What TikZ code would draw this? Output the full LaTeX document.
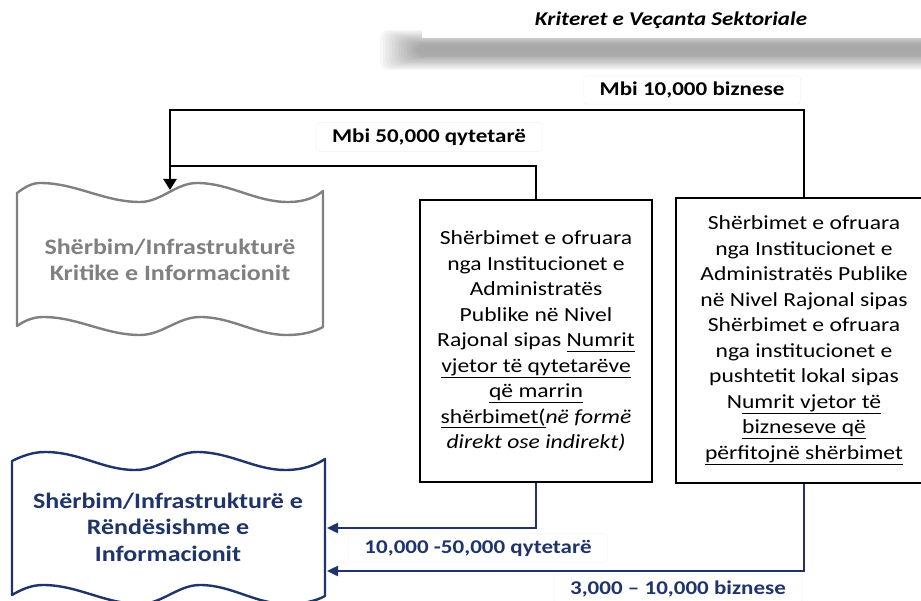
\documentclass[tikz,border=0pt]{standalone}
\usepackage{fontspec}
\setmainfont[FakeStretch=1.18]{Carlito}
\usetikzlibrary{arrows.meta}
\definecolor{navy}{RGB}{31,52,108}
\definecolor{docgray}{RGB}{128,128,128}
\newcommand\uln[1]{\underline{#1\vphantom{qy}}}
\begin{document}
\begin{tikzpicture}[x=1pt,y=-1pt,
  boxtxt/.style={draw=black, line width=1.6pt, align=center, font=\fontsize{20}{25.5}\selectfont, inner sep=0pt},
  lbl/.style={fill=white, draw=black!5, rounded corners=3pt, inner xsep=16pt, inner ysep=6pt, font=\bfseries\fontsize{19.5}{24}\selectfont},
  blk/.style={line width=2.4pt, draw=black},
  blu/.style={line width=2.4pt, draw=navy},
  tipblk/.style={-{Triangle[width=13pt,length=11pt]}},
  tipblu/.style={-{Triangle[width=10pt,length=11pt]}},
  doctxt/.style={align=center, font=\bfseries\fontsize{22}{26.5}\selectfont}
]
\useasboundingbox (0,0) rectangle (921,601);
\clip (0,0) rectangle (921,601);
% title banner with blurred shadow
\foreach \i in {0,...,12} {
  \fill[black, opacity=0.03, rounded corners=8pt] (380+\i*3, 30+\i*1.2) rectangle (935, 70-\i*1.2);
}
\fill[white] (422,0) rectangle (921,38);
\node[font=\bfseries\itshape\fontsize{19.5}{22}\selectfont] (title) at (671,20) {Kriteret e Veçanta Sektoriale};

% gray document shape
\draw[docgray, line width=2.4pt, line join=round, fill=white]
  (17,193) .. controls (25,187) and (32,183) .. (40,183)
  .. controls (76,183) and (104,202) .. (140,202)
  .. controls (161,202) and (176,183) .. (197,183)
  .. controls (230,183) and (255,202) .. (288,202)
  .. controls (305,202) and (316,197) .. (323,191)
  -- (323,327)
  .. controls (314,332) and (302,335) .. (287,335)
  .. controls (255,335) and (232,317) .. (200,317)
  .. controls (178,317) and (162,335) .. (140,335)
  .. controls (105,335) and (78,317) .. (43,317)
  .. controls (33,317) and (24,321) .. (17,326) -- cycle;
\node[doctxt, text=docgray] (crit) at (170,260) {Shërbim/Infrastrukturë\\Kritike e Informacionit};
\coordinate (critIn) at (170,190);

% blue document shape
\draw[navy, line width=2.4pt, line join=round, fill=white]
  (12,461) .. controls (22,456) and (33,452) .. (45,452)
  .. controls (80,452) and (103,470) .. (135,470)
  .. controls (160,470) and (175,452) .. (197,452)
  .. controls (230,452) and (255,470) .. (285,470)
  .. controls (303,470) and (316,465) .. (325,459)
  -- (325,596)
  .. controls (316,601) and (303,604) .. (287,604)
  .. controls (255,604) and (232,585) .. (200,585)
  .. controls (178,585) and (162,604) .. (140,604)
  .. controls (105,604) and (78,585) .. (43,585)
  .. controls (32,585) and (22,589) .. (12,595) -- cycle;
\node[doctxt, text=navy] (imp) at (168,527) {Shërbim/Infrastrukturë e\\Rëndësishme e\\Informacionit};
\coordinate (impIn1) at (327,528);
\coordinate (impIn2) at (327,571);

% boxes
\node[boxtxt, minimum width=232pt, minimum height=282pt] (box2) at (536,341) {%
Shërbimet e ofruara\\
nga Institucionet e\\
Administratës\\
Publike në Nivel\\
Rajonal sipas \uln{Numrit}\\
\uln{vjetor të qytetarëve}\\
\uln{që marrin}\\
\uln{shërbimet(}\textit{në formë}\\
\textit{direkt ose indirekt)}};
\node[boxtxt, minimum width=256pt, minimum height=285pt] (box3) at (804,340.5) {%
Shërbimet e ofruara\\
nga Institucionet e\\
Administratës Publike\\
në Nivel Rajonal sipas\\
Shërbimet e ofruara\\
nga institucionet e\\
pushtetit lokal sipas\\
N\uln{umrit vjetor të}\\
\uln{bizneseve që}\\
\uln{përfitojnë shërbimet}};

% black connectors
\coordinate (topL) at (170,110);
\coordinate (midL) at (170,166);
\draw[blk, tipblk] (box3.north) |- (topL) -- (critIn);
\draw[blk] (box2.north) |- (midL);

% blue connectors
\draw[blu, tipblu] (box2.south) |- (impIn1);
\draw[blu, tipblu] (box3.south) |- (impIn2);

% labels
\node[lbl] (l1) at (692,90) {Mbi 10,000 biznese};
\node[lbl] (l2) at (429,137) {Mbi 50,000 qytetarë};
\node[lbl, text=navy] (l3) at (478,548) {10,000 -50,000 qytetarë};
\node[lbl, text=navy] (l4) at (678,589) {3,000 – 10,000 biznese};
\end{tikzpicture}
\end{document}
